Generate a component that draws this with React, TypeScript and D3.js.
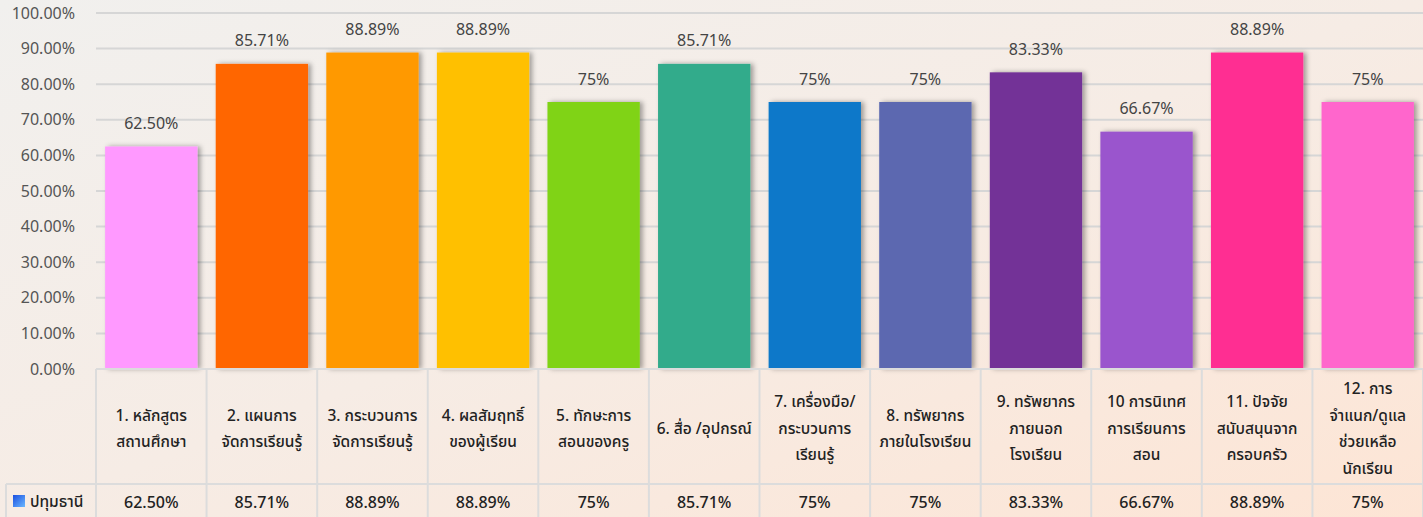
import React from "react";
import * as d3 from "d3";

const categories: string[][] = [
  ["1. หลักสูตร", "สถานศึกษา"],
  ["2. แผนการ", "จัดการเรียนรู้"],
  ["3. กระบวนการ", "จัดการเรียนรู้"],
  ["4. ผลสัมฤทธิ์", "ของผู้เรียน"],
  ["5. ทักษะการ", "สอนของครู"],
  ["6. สื่อ /อุปกรณ์"],
  ["7. เครื่องมือ/", "กระบวนการ", "เรียนรู้"],
  ["8. ทรัพยากร", "ภายในโรงเรียน"],
  ["9. ทรัพยากร", "ภายนอก", "โรงเรียน"],
  ["10 การนิเทศ", "การเรียนการ", "สอน"],
  ["11. ปัจจัย", "สนับสนุนจาก", "ครอบครัว"],
  ["12. การ", "จำแนก/ดูแล", "ช่วยเหลือ", "นักเรียน"],
];
const values: number[] = [62.5, 85.71, 88.89, 88.89, 75, 85.71, 75, 75, 83.33, 66.67, 88.89, 75];
const valueLabels: string[] = ["62.50%", "85.71%", "88.89%", "88.89%", "75%", "85.71%", "75%", "75%", "83.33%", "66.67%", "88.89%", "75%"];
const colors: string[] = ["#ff99ff", "#ff6600", "#ff9900", "#ffc000", "#80d318", "#33ab8b", "#0e78c9", "#5b68b0", "#733197", "#9a55cd", "#ff2f92", "#ff66cc"];
const yTicks: number[] = [0, 10, 20, 30, 40, 50, 60, 70, 80, 90, 100];
const seriesName = "ปทุมธานี";

const W = 1423;
const H = 517;
const left = 96;
const right = 1423;
const top = 13;
const bottom = 369;
const tableRow = 484;
const FONT = "'Noto Sans', 'Noto Sans Thai', Tahoma, sans-serif";

export default function App() {
  const x = d3.scaleBand<number>().domain(d3.range(values.length)).range([left, right]).paddingInner(0.165).paddingOuter(0.0825);
  const col = d3.scaleBand<number>().domain(d3.range(values.length)).range([left, right]).padding(0);
  const y = d3.scaleLinear().domain([0, 100]).range([bottom, top]);
  const fmt = d3.format(".2f");
  const lh = 26.5;
  const headerMid = (bottom + tableRow) / 2 + 2;

  return (
    <svg width={W} height={H} style={{ position: "absolute", left: 0, top: 0, fontFamily: FONT }}>
      <defs>
        <linearGradient id="bg" x1="0" y1="0" x2="1" y2="1">
          <stop offset="0" stopColor="#f1f0ee" />
          <stop offset="0.5" stopColor="#f6ece5" />
          <stop offset="1" stopColor="#fde5d5" />
        </linearGradient>
        <linearGradient id="leg" x1="0" y1="0" x2="1" y2="1">
          <stop offset="0" stopColor="#1b4fe0" />
          <stop offset="1" stopColor="#6ab8ff" />
        </linearGradient>
        <filter id="shadow" x="-20%" y="-10%" width="140%" height="120%">
          <feDropShadow dx="3" dy="0" stdDeviation="2.5" floodColor="#000" floodOpacity="0.35" />
        </filter>
      </defs>
      <rect x={0} y={0} width={W} height={H} fill="url(#bg)" />
      {yTicks.map((t) => (
        <g key={t}>
          {t > 0 && <line x1={left} x2={right} y1={y(t)} y2={y(t)} stroke="#d6d6d6" strokeWidth={2} />}
          <text x={75} y={y(t)} dy="0.35em" textAnchor="end" fontSize={16} fill="#555">
            {fmt(t)}%
          </text>
        </g>
      ))}
      {values.map((v, i) => (
        <rect key={i} x={x(i)} y={y(v)} width={x.bandwidth()} height={bottom - y(v)} fill={colors[i]} filter="url(#shadow)" />
      ))}
      {values.map((v, i) => (
        <text key={i} x={x(i)! + x.bandwidth() / 2} y={y(v) - 23} dy="0.35em" textAnchor="middle" fontSize={16} fill="#444">
          {valueLabels[i]}
        </text>
      ))}
      {/* table */}
      <g stroke="#dcdcdc" strokeWidth={2}>
        <line x1={left} x2={right} y1={bottom} y2={bottom} />
        <line x1={6} x2={right} y1={tableRow} y2={tableRow} />
        <line x1={6} x2={6} y1={tableRow} y2={H} />
        {d3.range(values.length + 1).map((i) => {
          const xx = i < values.length ? col(i)! : right;
          return <line key={i} x1={xx} x2={xx} y1={bottom} y2={H} />;
        })}
      </g>
      {categories.map((lines, i) => (
        <text key={i} textAnchor="middle" fontSize={15.5} fill="#222" fontWeight={500}>
          {lines.map((l, j) => (
            <tspan key={j} x={col(i)! + col.bandwidth() / 2} y={headerMid + (j - (lines.length - 1) / 2) * lh} dy="0.35em">
              {l}
            </tspan>
          ))}
        </text>
      ))}
      {valueLabels.map((l, i) => (
        <text key={i} x={col(i)! + col.bandwidth() / 2} y={502} dy="0.35em" textAnchor="middle" fontSize={16} fill="#222" fontWeight={500}>
          {l}
        </text>
      ))}
      <rect x={13} y={495} width={12} height={12} fill="url(#leg)" />
      <text x={30} y={502} dy="0.35em" fontSize={15.5} fill="#222" fontWeight={500}>
        {seriesName}
      </text>
    </svg>
  );
}
